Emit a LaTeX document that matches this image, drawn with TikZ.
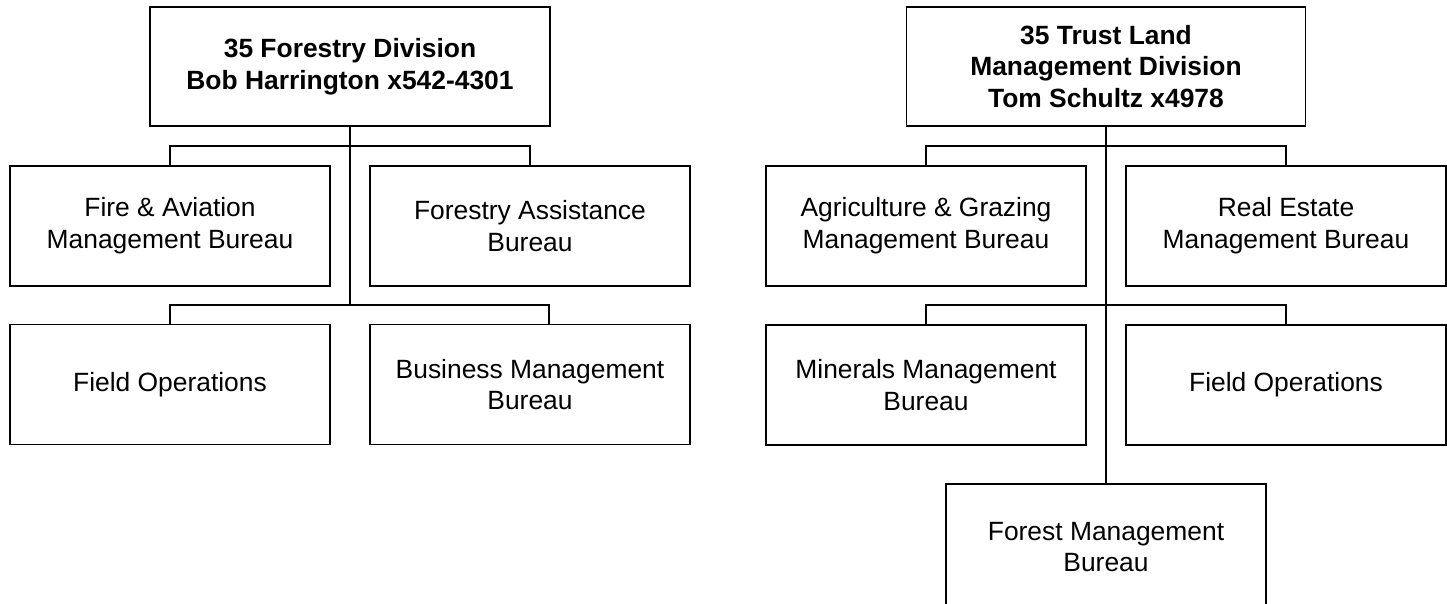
\documentclass[tikz,border=0pt]{standalone}
\usepackage{fontspec}
\setmainfont{Liberation Sans}
\begin{document}
\begin{tikzpicture}[x=1pt,y=-1pt,
  every node/.style={font=\fontsize{26.4}{31.7}\selectfont},
  unitbox/.style={draw=black, line width=1.4pt, rectangle, align=center, minimum width=320pt, minimum height=120pt, inner sep=0pt},
  headbox/.style={unitbox, minimum width=400pt, minimum height=119pt, font=\fontsize{26.4}{31.7}\selectfont\bfseries},
  link/.style={draw=black, line width=1.4pt}
]
\useasboundingbox (0,0) rectangle (1447,603);

% Left tree
\node[headbox] (topL) at (350,66.5) {35 Forestry Division\\Bob Harrington x542-4301};
\node[unitbox] (fire) at (170,226) {Fire \& Aviation\\Management Bureau};
\node[unitbox] (fassist) at (530,226) {Forestry Assistance\\Bureau};
\node[unitbox] (fieldL) at (170,384.5) {Field Operations};
\node[unitbox] (bus) at (530,384.5) {Business Management\\Bureau};
\coordinate (jL1) at (350,146);
\coordinate (jL2) at (350,305);
\coordinate (busTop) at (549,324.5);

\draw[link] (topL.south) -- (jL2);
\draw[link] (fire.north) |- (jL1) -| (fassist.north);
\draw[link] (fieldL.north) |- (jL2) -| (busTop);

% Right tree
\node[headbox, minimum width=399pt] (topR) at (1106,66.5) {35 Trust Land\\Management Division\\Tom Schultz x4978};
\node[unitbox] (agri) at (926,226) {Agriculture \& Grazing\\Management Bureau};
\node[unitbox] (real) at (1286,226) {Real Estate\\Management Bureau};
\node[unitbox] (minerals) at (926,385) {Minerals Management\\Bureau};
\node[unitbox] (fieldR) at (1286,385) {Field Operations};
\node[unitbox, minimum height=126pt] (forest) at (1106,547) {Forest Management\\Bureau};
\coordinate (jR1) at (1106,146);
\coordinate (jR2) at (1106,305);

\draw[link] (topR.south) -- (forest.north);
\draw[link] (agri.north) |- (jR1) -| (real.north);
\draw[link] (minerals.north) |- (jR2) -| (fieldR.north);
\end{tikzpicture}
\end{document}
